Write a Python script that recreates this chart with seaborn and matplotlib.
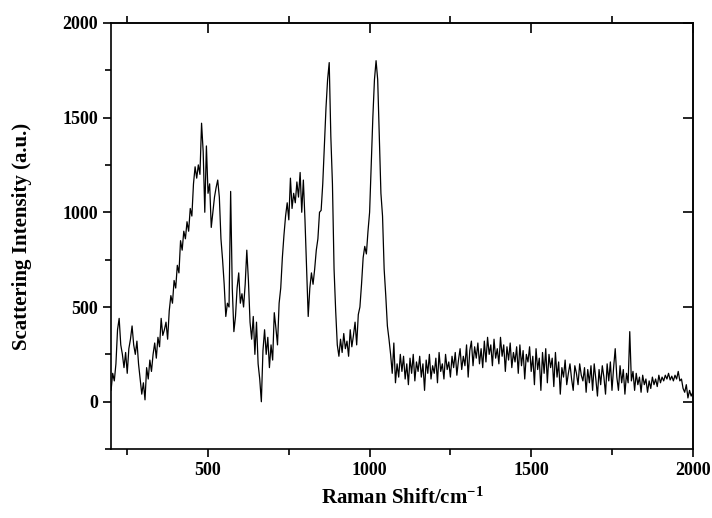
import numpy as np
import pandas as pd
import matplotlib
matplotlib.use("Agg")
import matplotlib.pyplot as plt
import seaborn as sns
from matplotlib.ticker import FixedLocator

# Raman shift sampling grid (cm^-1)
shift = list(range(200, 2001, 5))

# Scattering intensity, grouped per 100 cm^-1
i_200 = [60, 150, 110, 200, 380, 440, 300, 250, 180, 260, 150, 280, 330, 400, 300, 250, 320, 200, 120, 40]
i_300 = [100, 10, 180, 120, 220, 160, 250, 310, 230, 340, 290, 440, 350, 380, 420, 330, 480, 560, 520, 640]
i_400 = [600, 720, 680, 850, 800, 900, 860, 950, 900, 1020, 980, 1150, 1240, 1180, 1250, 1200, 1470, 1320, 1000, 1350]
i_500 = [1100, 1150, 920, 1000, 1080, 1130, 1170, 1080, 860, 750, 620, 450, 520, 500, 1110, 600, 370, 450, 600, 680]
i_600 = [520, 570, 500, 620, 800, 640, 420, 330, 450, 250, 420, 200, 120, 0, 270, 380, 250, 340, 180, 300]
i_700 = [220, 470, 390, 300, 520, 600, 760, 880, 980, 1050, 960, 1180, 1020, 1100, 1050, 1160, 1080, 1210, 1000, 1170]
i_800 = [960, 700, 450, 600, 680, 620, 700, 800, 860, 1000, 1010, 1150, 1350, 1550, 1700, 1790, 1400, 1150, 700, 480]
i_900 = [300, 240, 330, 260, 360, 280, 320, 240, 380, 290, 350, 420, 300, 460, 500, 620, 760, 820, 780, 900]
i_1000 = [1000, 1250, 1500, 1700, 1800, 1700, 1400, 1100, 980, 700, 560, 400, 330, 250, 150, 310, 100, 200, 130, 250]
i_1100 = [160, 240, 120, 200, 90, 230, 150, 250, 110, 210, 160, 240, 130, 200, 60, 220, 150, 250, 120, 190]
i_1200 = [150, 230, 100, 260, 160, 200, 120, 250, 170, 210, 130, 240, 180, 260, 140, 220, 280, 170, 240, 190]
i_1300 = [300, 130, 270, 320, 190, 290, 230, 310, 200, 280, 180, 320, 210, 340, 250, 300, 190, 330, 230, 280]
i_1400 = [200, 340, 240, 300, 160, 290, 220, 310, 180, 260, 210, 290, 150, 300, 190, 270, 120, 250, 210, 290]
i_1500 = [160, 240, 90, 280, 170, 230, 60, 260, 150, 280, 100, 250, 180, 230, 80, 260, 130, 210, 40, 180]
i_1600 = [130, 220, 90, 150, 200, 120, 60, 190, 150, 90, 200, 140, 110, 180, 50, 170, 100, 190, 60, 200]
i_1700 = [120, 30, 170, 90, 190, 130, 40, 200, 110, 210, 60, 180, 280, 130, 60, 190, 100, 170, 40, 150]
i_1800 = [100, 370, 110, 160, 60, 150, 90, 130, 50, 140, 90, 120, 50, 110, 70, 130, 90, 120, 80, 140]
i_1900 = [100, 130, 110, 140, 120, 150, 115, 135, 110, 140, 120, 160, 110, 120, 70, 50, 90, 20, 60, 30]
i_2000 = [50]

intensity = (i_200 + i_300 + i_400 + i_500 + i_600 + i_700 + i_800 + i_900 + i_1000 +
             i_1100 + i_1200 + i_1300 + i_1400 + i_1500 + i_1600 + i_1700 + i_1800 +
             i_1900 + i_2000)

x_major = [500, 1000, 1500, 2000]
x_minor = [250, 750, 1250, 1750]
y_major = [0, 500, 1000, 1500, 2000]
y_minor = [-250, 250, 750, 1250, 1750]

df = pd.DataFrame({"shift": shift, "intensity": intensity})

sns.set_style("ticks")
plt.rcParams['font.family'] = ['Liberation Serif', 'DejaVu Serif']
plt.rcParams['font.weight'] = 'bold'
plt.rcParams['mathtext.fontset'] = 'custom'
plt.rcParams['mathtext.rm'] = 'Liberation Serif:bold'
plt.rcParams['mathtext.it'] = 'Liberation Serif:bold'
plt.rcParams['mathtext.bf'] = 'Liberation Serif:bold'
plt.rcParams['mathtext.default'] = 'rm'
plt.rcParams['text.color'] = 'black'
plt.rcParams['axes.labelcolor'] = 'black'

fig = plt.figure(figsize=(7.12, 5.18), dpi=100)
ax = fig.add_axes([0.156, 0.133, 0.817, 0.823])

sns.lineplot(data=df, x="shift", y="intensity", ax=ax, color="black",
             linewidth=0.9, estimator=None, sort=False)

ax.set_xlim(200, 2000)
ax.set_ylim(-250, 2000)
ax.xaxis.set_major_locator(FixedLocator(x_major))
ax.xaxis.set_minor_locator(FixedLocator(x_minor))
ax.yaxis.set_major_locator(FixedLocator(y_major))
ax.yaxis.set_minor_locator(FixedLocator(y_minor))

for s in ax.spines.values():
    s.set_linewidth(1.2)
    s.set_color("black")

ax.tick_params(axis='both', which='major', direction='out', length=6, width=1.2,
               labelsize=13, colors='black')
ax.tick_params(axis='both', which='minor', direction='out', length=4, width=1.2,
               colors='black')
for lab in ax.get_xticklabels() + ax.get_yticklabels():
    lab.set_fontweight('bold')

# top axis: major ticks inward, minor outward
secx = ax.secondary_xaxis('top')
secx.xaxis.set_major_locator(FixedLocator(x_major))
secx.xaxis.set_minor_locator(FixedLocator(x_minor))
secx.tick_params(which='major', direction='in', length=7, width=1.2, labeltop=False, colors='black')
secx.tick_params(which='minor', direction='out', length=5, width=1.2, colors='black')
secx.spines['top'].set_linewidth(1.2)

# right axis: major ticks inward
secy = ax.secondary_yaxis('right')
secy.yaxis.set_major_locator(FixedLocator(y_major))
secy.yaxis.set_minor_locator(FixedLocator([]))
secy.tick_params(which='major', direction='in', length=7, width=1.2, labelright=False, colors='black')
secy.spines['right'].set_linewidth(1.2)

ax.set_xlabel("Raman Shift/cm$^{-1}$", fontsize=15, fontweight='bold', labelpad=6,
              color='black')
ax.set_ylabel("Scattering Intensity (a.u.)", fontsize=15, fontweight='bold', labelpad=22,
              color='black')

fig.savefig("out.png", dpi=100)
